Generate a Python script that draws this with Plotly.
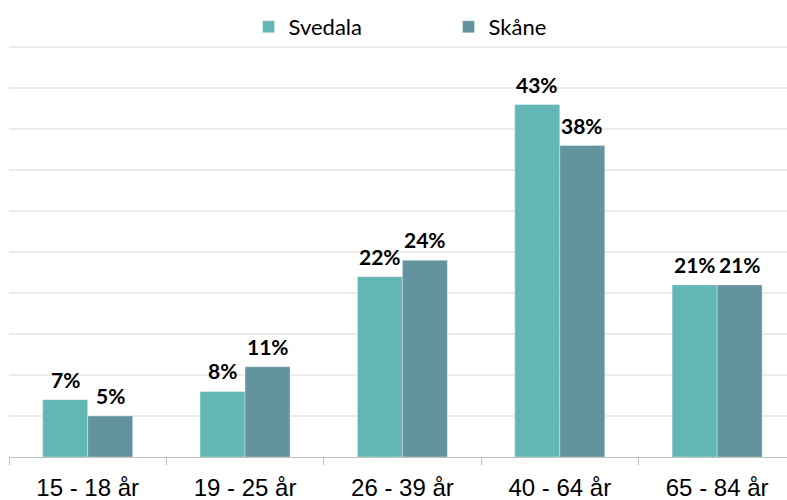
import plotly.graph_objects as go

categories = ["15 - 18 år", "19 - 25 år", "26 - 39 år", "40 - 64 år", "65 - 84 år"]
svedala = [7, 8, 22, 43, 21]
skane = [5, 11, 24, 38, 21]
series_names = ["Svedala", "Skåne"]
colors = ["#62B7B5", "#62939E"]

fig = go.Figure()
for name, vals, col in zip(series_names, [svedala, skane], colors):
    fig.add_trace(go.Bar(
        x=categories, y=vals, name=name,
        marker=dict(color=col, line=dict(color="rgba(255,255,255,0.35)", width=1)),
    ))

bargap = 0.428
half = (1 - bargap) / 4.0
for k, vals in enumerate([svedala, skane]):
    off = -half if k == 0 else half
    for i, v in enumerate(vals):
        fig.add_annotation(
            x=i + off, y=v, xref="x", yref="y",
            text=f"<b>{v}%</b>", showarrow=False,
            yanchor="bottom", xanchor="center", yshift=6,
            font=dict(family="Lato", size=21, color="#000000"),
        )

fig.update_layout(
    width=787, height=500,
    margin=dict(l=9, r=0, t=39, b=43, autoexpand=False),
    paper_bgcolor="white", plot_bgcolor="white",
    barmode="group", bargap=bargap, bargroupgap=0,
    showlegend=True,
    legend=dict(
        orientation="h", x=0.565, xanchor="center",
        yref="container", y=1 - 27 / 500, yanchor="middle",
        font=dict(family="Lato", size=22, color="#000000"),
        traceorder="normal", entrywidth=155,
        bgcolor="rgba(0,0,0,0)",
    ),
    xaxis=dict(
        range=[-0.5, 4.444],
        showline=True, linecolor="#bfbfbf", linewidth=1,
        ticks="outside", tickson="boundaries", ticklen=7, tickcolor="#bfbfbf",
        showgrid=False, ticklabelstandoff=9,
        tickfont=dict(family="Arial", size=24, color="#000000"),
        automargin=False,
    ),
    yaxis=dict(
        range=[0, 51], dtick=5, showgrid=True, gridcolor="#ebebeb", gridwidth=1.5,
        showticklabels=False, zeroline=False, showline=False, automargin=False,
    ),
)

fig.write_html("out.html", config={"displayModeBar": False},
               post_script="document.body.style.margin='0px';")
